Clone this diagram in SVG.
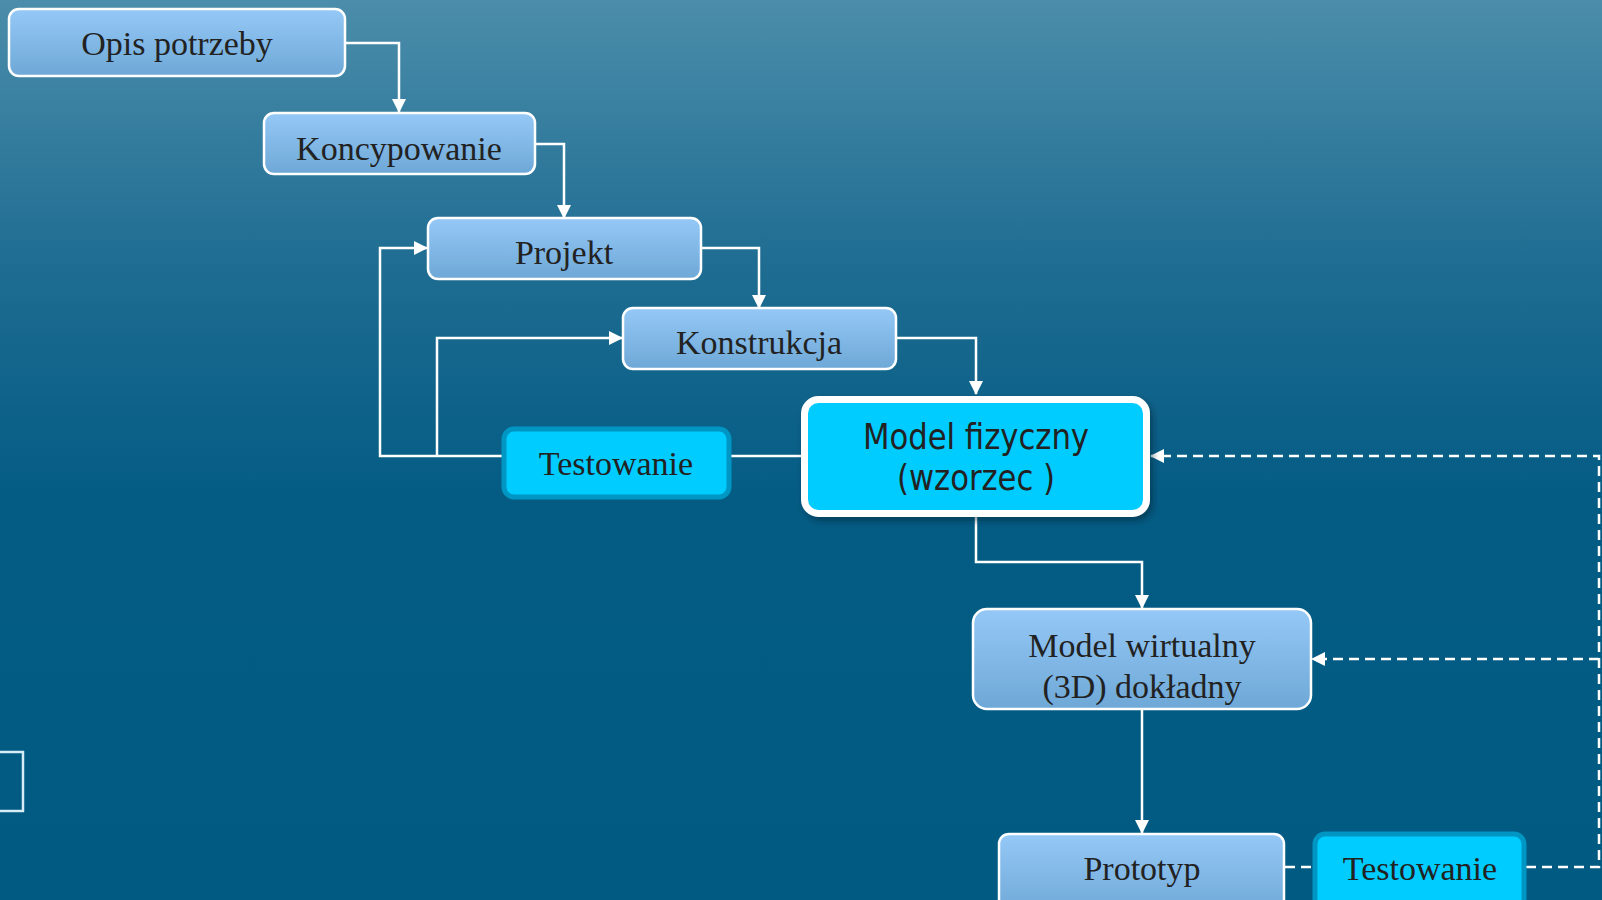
<svg xmlns="http://www.w3.org/2000/svg" width="1602" height="900" viewBox="0 0 1602 900">
<defs>
<linearGradient id="bg" x1="0" y1="0" x2="0" y2="1">
<stop offset="0" stop-color="#4B8DAA"/>
<stop offset="0.3" stop-color="#1E6C92"/>
<stop offset="0.55" stop-color="#045C84"/>
<stop offset="1" stop-color="#005A82"/>
</linearGradient>
<linearGradient id="boxg" x1="0" y1="0" x2="0" y2="1">
<stop offset="0" stop-color="#95C8F7"/>
<stop offset="1" stop-color="#6EA8D6"/>
</linearGradient>
<marker id="arr" viewBox="0 0 14 14" refX="13" refY="7" markerWidth="14" markerHeight="14" markerUnits="userSpaceOnUse" orient="auto">
<path d="M0,0 L14,7 L0,14 Z" fill="#FFFFFF"/>
</marker>
<filter id="sh" x="-10%" y="-10%" width="125%" height="130%">
<feDropShadow dx="3" dy="4" stdDeviation="3" flood-color="#002030" flood-opacity="0.5"/>
</filter>
</defs>
<style>
.box{fill:url(#boxg);stroke:#FFFFFF;stroke-width:2.5}
.test{fill:#00CCFF;stroke:#0096C4;stroke-width:5}
.main{fill:#00CCFF;stroke:#FFFFFF;stroke-width:7}
.serif{font-family:"Liberation Serif","Times New Roman",serif;font-size:34px;fill:#222222;text-anchor:middle}
.sans{font-family:"DejaVu Sans Condensed","DejaVu Sans",sans-serif;font-stretch:condensed;font-size:35px;fill:#222222;text-anchor:middle}
.ln{fill:none;stroke:#FFFFFF;stroke-width:2.5}
.dash{fill:none;stroke:#FFFFFF;stroke-width:2.5;stroke-dasharray:10 6}
</style>
<rect x="0" y="0" width="1602" height="900" fill="url(#bg)"/>
<rect x="-4" y="752" width="27" height="59" fill="none" stroke="#D8ECF5" stroke-width="2.5"/>

<g id="connectors">
<path class="ln" d="M345,43 H399 V112" marker-end="url(#arr)"/>
<path class="ln" d="M535,144 H564 V218" marker-end="url(#arr)"/>
<path class="ln" d="M701,248 H759 V308" marker-end="url(#arr)"/>
<path class="ln" d="M896,338 H976 V394" marker-end="url(#arr)"/>
<path class="ln" d="M502,456 H380 V248 H427" marker-end="url(#arr)"/>
<path class="ln" d="M437,456 V338 H622" marker-end="url(#arr)"/>
<path class="ln" d="M731,456 H801"/>
<path class="ln" d="M976,517 V562 H1142 V608" marker-end="url(#arr)"/>
<path class="ln" d="M1142,709 V833" marker-end="url(#arr)"/>
<path class="dash" d="M1285,867 H1312"/>
<path class="dash" d="M1526,867 H1599 V456 H1151" marker-end="url(#arr)"/>
<path class="dash" d="M1599,659 H1312" marker-end="url(#arr)"/>
</g>

<g id="opis">
<rect class="box" x="9" y="9" width="336" height="67" rx="10"/>
<text class="serif" x="177" y="55">Opis potrzeby</text>
</g>
<g id="koncypowanie">
<rect class="box" x="264" y="113" width="271" height="61" rx="10"/>
<text class="serif" x="399" y="160">Koncypowanie</text>
</g>
<g id="projekt">
<rect class="box" x="428" y="218" width="273" height="61" rx="10"/>
<text class="serif" x="564" y="264">Projekt</text>
</g>
<g id="konstrukcja">
<rect class="box" x="623" y="308" width="273" height="61" rx="10"/>
<text class="serif" x="759" y="354">Konstrukcja</text>
</g>
<g id="testowanie1">
<rect class="test" x="504" y="429" width="225" height="68" rx="10"/>
<text class="serif" x="616" y="475">Testowanie</text>
</g>
<g id="model-fizyczny">
<rect class="main" x="804.5" y="399.5" width="342" height="114" rx="14" filter="url(#sh)"/>
<text class="sans" x="976" y="449" textLength="226" lengthAdjust="spacingAndGlyphs">Model fizyczny</text>
<text class="sans" x="976" y="490" textLength="158" lengthAdjust="spacingAndGlyphs">(wzorzec )</text>
</g>
<g id="model-wirtualny">
<rect class="box" x="973" y="609" width="338" height="100" rx="14"/>
<text class="serif" x="1142" y="657">Model wirtualny</text>
<text class="serif" x="1142" y="698">(3D) dokładny</text>
</g>
<g id="prototyp">
<rect class="box" x="999" y="834" width="285" height="80" rx="10"/>
<text class="serif" x="1142" y="880">Prototyp</text>
</g>
<g id="testowanie2">
<rect class="test" x="1315" y="834" width="209" height="80" rx="10"/>
<text class="serif" x="1420" y="880">Testowanie</text>
</g>
</svg>
